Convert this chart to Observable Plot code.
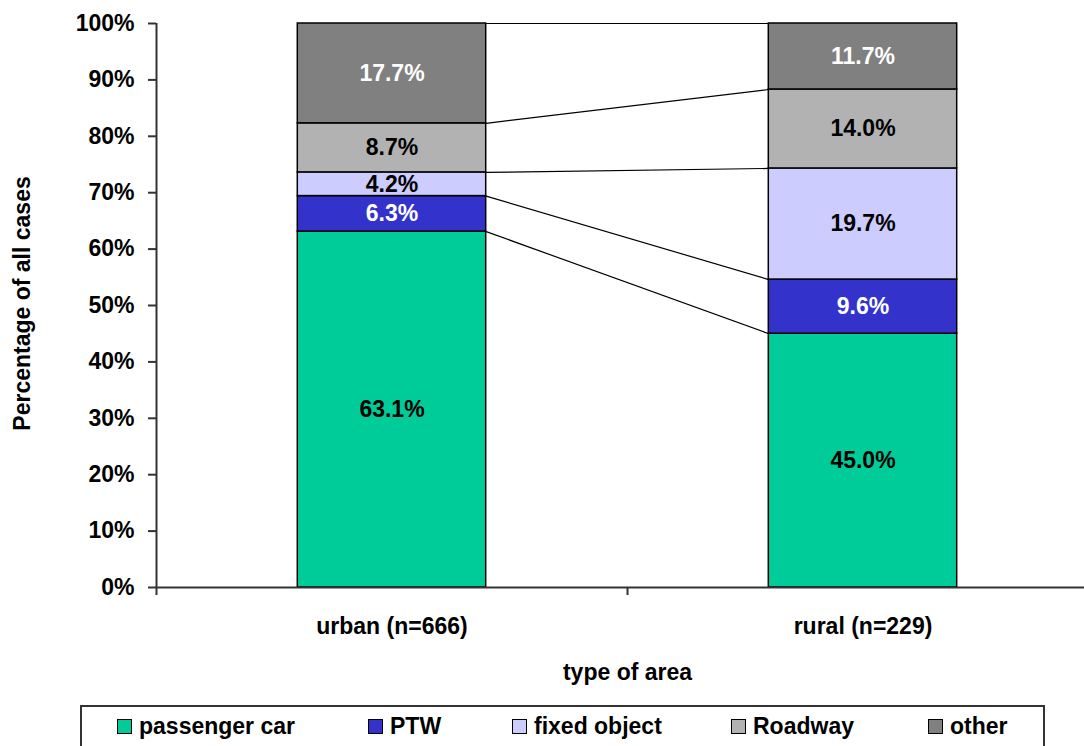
<!DOCTYPE html>
<html>
<head>
<meta charset="utf-8">
<script src="https://cdn.jsdelivr.net/npm/d3@7"></script>
<script src="https://cdn.jsdelivr.net/npm/@observablehq/plot@0.6"></script>
<style>
  body { margin: 0; background: #fff; font-family: "Liberation Sans", Arial, sans-serif; }
  #wrap { position: relative; width: 1084px; height: 746px; overflow: hidden; }
  #legend { position: absolute; left: 80px; top: 705px; width: 965px; height: 60px;
    border: 2px solid #333; box-sizing: border-box; font-weight: bold; font-size: 23px; color: #000; }
  .item { position: absolute; top: 6px; display: flex; align-items: center; white-space: nowrap; }
  .sw { width: 13px; height: 13px; border: 1px solid #000; margin-right: 7px; }
</style>
</head>
<body>
<div id="wrap">
  <div id="chart"></div>
  <div id="legend"></div>
</div>
<script>
const categories = ["urban (n=666)", "rural (n=229)"];
const series = ["passenger car", "PTW", "fixed object", "Roadway", "other"];
const urbanValues = [63.1, 6.3, 4.2, 8.7, 17.7];
const ruralValues = [45.0, 9.6, 19.7, 14.0, 11.7];
const colors = ["#00CC99", "#3333CC", "#CCCCFF", "#B2B2B2", "#808080"];
const whiteLabelSeries = ["PTW", "other"];
const yTicks = [0, 10, 20, 30, 40, 50, 60, 70, 80, 90, 100];
const legendOffsets = [35, 286, 430, 649, 846];

const values = [urbanValues, ruralValues];
const barHalf = 0.2;

const rows = [];
categories.forEach((cat, i) => {
  let cum = 0;
  series.forEach((s, j) => {
    const v = values[i][j];
    rows.push({cat, i, series: s, value: v, y1: cum, y2: cum + v});
    cum += v;
  });
});

const links = series.map(s => {
  const a = rows.find(r => r.i === 0 && r.series === s);
  const b = rows.find(r => r.i === 1 && r.series === s);
  return {series: s, ya: a.y2, yb: b.y2};
});

const font = '"Liberation Sans", Arial, sans-serif';

const chart = Plot.plot({
  width: 1084,
  height: 700,
  marginLeft: 156,
  marginTop: 23,
  marginBottom: 113,
  marginRight: 0,
  style: {fontFamily: font, fontSize: "23px", fontWeight: "bold", color: "#000", background: "#fff"},
  x: {type: "linear", domain: [0, 2], range: [156, 1098], axis: null},
  y: {domain: [0, 100], axis: null},
  color: {domain: series, range: colors},
  marks: [
    Plot.rectY(rows, {
      x1: d => d.i + 0.5 - barHalf,
      x2: d => d.i + 0.5 + barHalf,
      y1: "y1", y2: "y2",
      fill: "series", stroke: "#000", strokeWidth: 1.5
    }),
    Plot.link(links, {
      x1: () => 0.5 + barHalf, x2: () => 1.5 - barHalf,
      y1: "ya", y2: "yb", stroke: "#000", strokeWidth: 1.2
    }),
    Plot.text(rows.filter(r => !whiteLabelSeries.includes(r.series)), {
      x: d => d.i + 0.5, y: d => (d.y1 + d.y2) / 2,
      text: d => d.value.toFixed(1) + "%", fill: "#000", fontSize: 23, fontWeight: "bold"
    }),
    Plot.text(rows.filter(r => whiteLabelSeries.includes(r.series)), {
      x: d => d.i + 0.5, y: d => (d.y1 + d.y2) / 2,
      text: d => d.value.toFixed(1) + "%", fill: "#fff", fontSize: 23, fontWeight: "bold"
    }),
    Plot.axisY({ticks: yTicks, tickFormat: d => d + "%", tickSize: 8, tickPadding: 14,
      stroke: "#333", strokeWidth: 2, fontSize: 23, fontWeight: "bold", label: null}),
    Plot.axisX({ticks: [0, 1, 2], tickFormat: () => "", tickSize: 8, stroke: "#333", strokeWidth: 2, label: null}),
    Plot.ruleX([0], {stroke: "#333", strokeWidth: 2}),
    Plot.ruleY([0], {stroke: "#333", strokeWidth: 2}),
    Plot.text(categories, {x: (d, i) => i + 0.5, y: 0, dy: 39, text: d => d, fontSize: 23, fontWeight: "bold", fill: "#000"}),
    Plot.text(["type of area"], {x: 1, y: 0, dy: 85, text: d => d, fontSize: 23, fontWeight: "bold", fill: "#000"}),
    Plot.text(["Percentage of all cases"], {frameAnchor: "left", textAnchor: "middle", dx: -134, dy: -2, rotate: -90, text: d => d, fontSize: 23, fontWeight: "bold", fill: "#000"})
  ]
});
document.getElementById("chart").appendChild(chart);

const legend = document.getElementById("legend");
series.forEach((s, j) => {
  const item = document.createElement("div");
  item.className = "item";
  item.style.left = legendOffsets[j] + "px";
  const sw = document.createElement("span");
  sw.className = "sw";
  sw.style.background = colors[j];
  const t = document.createElement("span");
  t.textContent = s;
  item.appendChild(sw);
  item.appendChild(t);
  legend.appendChild(item);
});
</script>
</body>
</html>
